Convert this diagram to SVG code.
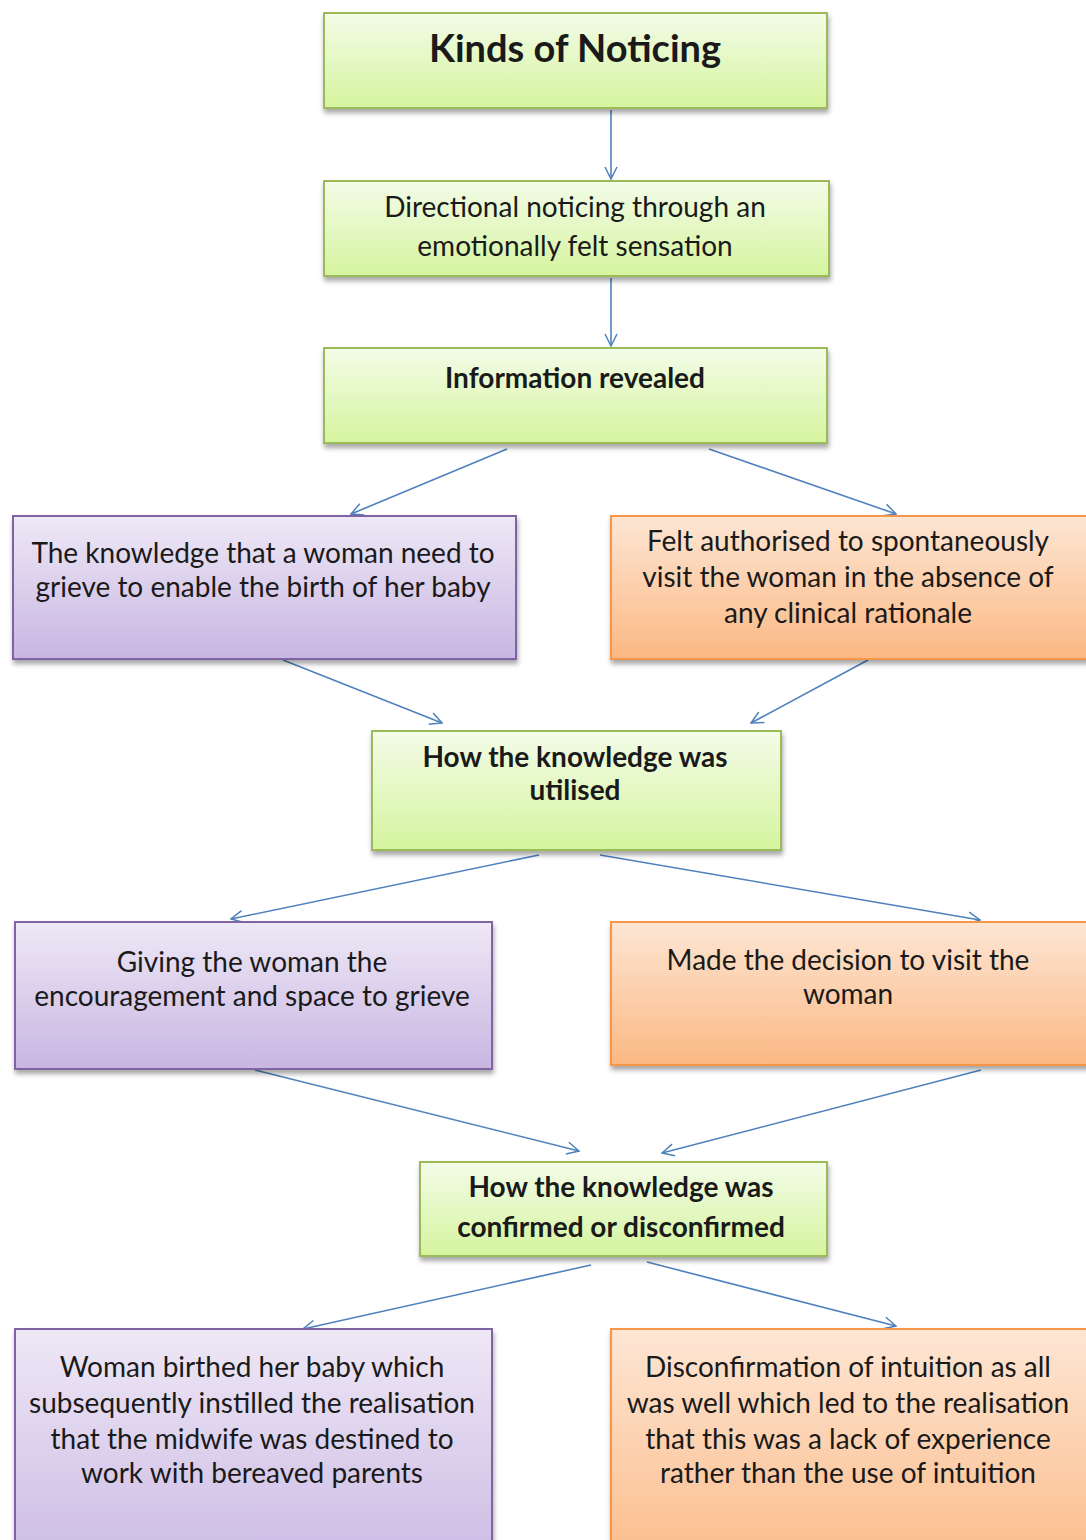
<svg xmlns="http://www.w3.org/2000/svg" width="1086" height="1540" viewBox="0 0 1086 1540">
  <defs>
    <linearGradient id="gGreen" x1="0" y1="0" x2="0" y2="1">
      <stop offset="0" stop-color="#f3fce8"/>
      <stop offset="1" stop-color="#d5f49e"/>
    </linearGradient>
    <linearGradient id="gPurple" x1="0" y1="0" x2="0" y2="1">
      <stop offset="0" stop-color="#eee8f6"/>
      <stop offset="1" stop-color="#c8b6e2"/>
    </linearGradient>
    <linearGradient id="gOrange" x1="0" y1="0" x2="0" y2="1">
      <stop offset="0" stop-color="#fde6d4"/>
      <stop offset="1" stop-color="#fbb883"/>
    </linearGradient>
    <filter id="shadow" x="-5%" y="-10%" width="110%" height="130%">
      <feDropShadow dx="1" dy="4" stdDeviation="2.5" flood-color="#000" flood-opacity="0.35"/>
    </filter>
    <marker id="arrow" viewBox="0 0 14 14" refX="13" refY="7" markerWidth="14" markerHeight="14" markerUnits="userSpaceOnUse" orient="auto">
      <path d="M1,1 L13,7 L1,13" fill="none" stroke="#4f81bd" stroke-width="1.5"/>
    </marker>
  </defs>
  <style>
    .box { stroke-width: 2; filter: url(#shadow); }
    .green { fill: url(#gGreen); stroke: #9bbb59; }
    .purple { fill: url(#gPurple); stroke: #8064a2; }
    .orange { fill: url(#gOrange); stroke: #f79646; }
    text { font-family: Lato, "Open Sans", "Liberation Sans", sans-serif; font-size: 28px; fill: #1a1a1a; text-anchor: middle; }
    .bold { font-weight: bold; }
    .title { font-size: 38px; font-weight: bold; }
    .conn line { stroke: #4f81bd; stroke-width: 1.6; marker-end: url(#arrow); }
  </style>

  <rect width="1086" height="1540" fill="#ffffff"/>

  <g class="conn" id="connectors">
    <line x1="611" y1="110" x2="611" y2="179"/>
    <line x1="611" y1="278" x2="611" y2="346"/>
    <line x1="507" y1="449" x2="351" y2="514"/>
    <line x1="709" y1="449" x2="896" y2="514"/>
    <line x1="283" y1="660" x2="442" y2="723"/>
    <line x1="868" y1="660" x2="751" y2="723"/>
    <line x1="539" y1="855" x2="231" y2="919"/>
    <line x1="600" y1="855" x2="980" y2="920"/>
    <line x1="255" y1="1070" x2="579" y2="1151"/>
    <line x1="981" y1="1070" x2="662" y2="1153"/>
    <line x1="591" y1="1265" x2="303" y2="1329"/>
    <line x1="647" y1="1262" x2="896" y2="1326"/>
  </g>

  <g id="kinds-of-noticing">
    <rect class="box green" x="324" y="13" width="503" height="95"/>
    <text class="title" x="575" y="62">Kinds of Noticing</text>
  </g>

  <g id="directional-noticing">
    <rect class="box green" x="324" y="181" width="505" height="95"/>
    <text x="575" y="217">Directional noticing through an</text>
    <text x="575" y="256">emotionally felt sensation</text>
  </g>

  <g id="information-revealed">
    <rect class="box green" x="324" y="348" width="503" height="95"/>
    <text class="bold" x="575" y="388">Information revealed</text>
  </g>

  <g id="knowledge-grieve">
    <rect class="box purple" x="13" y="516" width="503" height="143"/>
    <text x="263" y="563">The knowledge that a woman need to</text>
    <text x="263" y="597">grieve to enable the birth of her baby</text>
  </g>

  <g id="felt-authorised">
    <rect class="box orange" x="611" y="516" width="490" height="143"/>
    <text x="848" y="551">Felt authorised to spontaneously</text>
    <text x="848" y="587">visit the woman in the absence of</text>
    <text x="848" y="623">any clinical rationale</text>
  </g>

  <g id="knowledge-utilised">
    <rect class="box green" x="372" y="731" width="409" height="119"/>
    <text class="bold" x="575" y="767">How the knowledge was</text>
    <text class="bold" x="575" y="800">utilised</text>
  </g>

  <g id="encouragement">
    <rect class="box purple" x="15" y="922" width="477" height="147"/>
    <text x="252" y="972">Giving the woman the</text>
    <text x="252" y="1006">encouragement and space to grieve</text>
  </g>

  <g id="decision-visit">
    <rect class="box orange" x="611" y="922" width="490" height="143"/>
    <text x="848" y="970">Made the decision to visit the</text>
    <text x="848" y="1004">woman</text>
  </g>

  <g id="knowledge-confirmed">
    <rect class="box green" x="420" y="1162" width="407" height="94"/>
    <text class="bold" x="621" y="1197">How the knowledge was</text>
    <text class="bold" x="621" y="1237">confirmed or disconfirmed</text>
  </g>

  <g id="woman-birthed">
    <rect class="box purple" x="15" y="1329" width="477" height="260"/>
    <text x="252" y="1377">Woman birthed her baby which</text>
    <text x="252" y="1413">subsequently instilled the realisation</text>
    <text x="252" y="1449">that the midwife was destined to</text>
    <text x="252" y="1483">work with bereaved parents</text>
  </g>

  <g id="disconfirmation">
    <rect class="box orange" x="611" y="1329" width="490" height="260"/>
    <text x="848" y="1377">Disconfirmation of intuition as all</text>
    <text x="848" y="1413">was well which led to the realisation</text>
    <text x="848" y="1449">that this was a lack of experience</text>
    <text x="848" y="1483">rather than the use of intuition</text>
  </g>
</svg>
